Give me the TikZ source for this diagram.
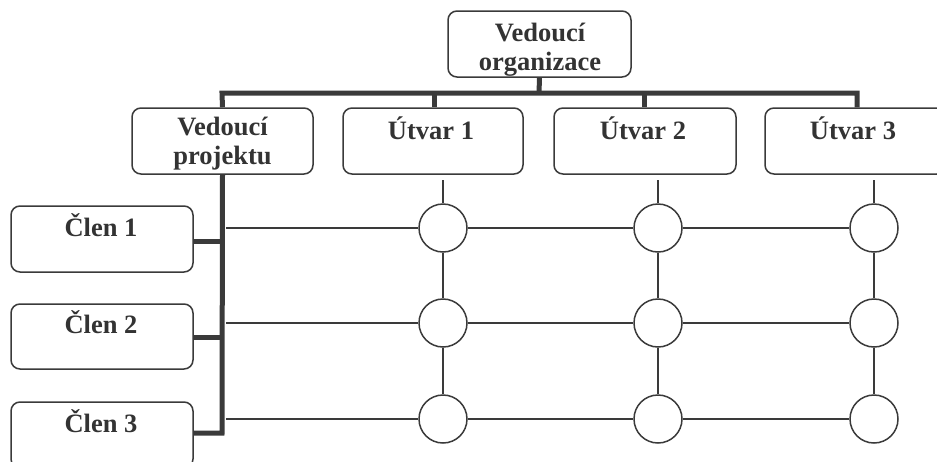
\documentclass[tikz,border=0pt]{standalone}
\usepackage{fontspec}
\setmainfont{Liberation Serif}
\definecolor{ln}{HTML}{3A3A3A}
\definecolor{tx}{HTML}{333333}
\begin{document}
\begin{tikzpicture}[x=1pt,y=-1pt,
  box/.style={draw=ln,line width=1.5pt,rounded corners=9pt,fill=white,inner sep=0pt,minimum height=66pt},
  lbl/.style={text=tx,font=\fontsize{26.5}{28.5}\selectfont\bfseries,inner sep=0pt,anchor=base,align=center},
  thick line/.style={draw=ln,line width=5pt},
  thin line/.style={draw=ln,line width=1.5pt},
  dot/.style={circle,draw=ln,line width=1.5pt,fill=white,minimum size=48pt,inner sep=0pt}]
\useasboundingbox (0,0) rectangle (937,461);
\clip (0,0) rectangle (937,461);
% coordinates
\coordinate (b0) at (539,93);
\coordinate (bl) at (222,93);
\coordinate (br) at (857,93);
\coordinate (b1) at (434,93);
\coordinate (b2) at (644,93);
\coordinate (vend) at (222,433);
\coordinate (v1) at (222,241);
\coordinate (v2) at (222,337);
% boxes
\node[box,minimum width=183pt] (org) at (539.5,44) {};
\node[box,minimum width=181pt] (vp) at (222.5,141) {};
\node[box,minimum width=180pt] (u1) at (433,141) {};
\node[box,minimum width=182pt] (u2) at (645,141) {};
\node[box,minimum width=181pt] (u3) at (855.5,141) {};
\node[box,minimum width=182pt] (c1) at (102,239) {};
\node[box,minimum width=182pt,minimum height=65pt] (c2) at (102,336.5) {};
\node[box,minimum width=182pt] (c3) at (102,435) {};
% texts (base = baseline of last line)
\node[lbl] (torg) at (540,70) {Vedoucí\\organizace};
\node[lbl] (tvp) at (222.5,164) {Vedoucí\\projektu};
\node[lbl] (tu1) at (431,139) {Útvar 1};
\node[lbl] (tu2) at (643,139) {Útvar 2};
\node[lbl] (tu3) at (853,139) {Útvar 3};
\node[lbl] (tc1) at (101,236) {Člen 1};
\node[lbl] (tc2) at (101,333) {Člen 2};
\node[lbl] (tc3) at (101,432) {Člen 3};
% circles
\foreach \c/\x in {1/443,2/658,3/874}{
  \node[dot] (d1\c) at (\x,228) {};
  \node[dot] (d2\c) at (\x,323) {};
  \node[dot] (d3\c) at (\x,419) {};
  \coordinate (top\c) at (\x,180);
}
\coordinate (h1) at (226,228);
\coordinate (h2) at (226,323);
\coordinate (h3) at (226,419);
% thick lines
\draw[thick line] (org.south) -- (b0);
\draw[thick line,line join=miter] (vp.north) -- (bl) -- (br) -- (br |- u3.north);
\draw[thick line] (b1) -- (b1 |- u1.north);
\draw[thick line] (b2) -- (b2 |- u2.north);
\draw[thick line,line join=miter] (vp.south) -- (vend) -- (vend -| c3.east);
\draw[thick line] (c1.east |- v1) -- (v1);
\draw[thick line] (c2.east |- v2) -- (v2);
% thin lines
\foreach \c in {1,2,3}{
  \draw[thin line] (top\c) -- (d1\c);
  \draw[thin line] (d1\c) -- (d2\c);
  \draw[thin line] (d2\c) -- (d3\c);
}
\foreach \r in {1,2,3}{
  \draw[thin line] (h\r) -- (d\r1);
  \draw[thin line] (d\r1) -- (d\r2);
  \draw[thin line] (d\r2) -- (d\r3);
}
\end{tikzpicture}
\end{document}
